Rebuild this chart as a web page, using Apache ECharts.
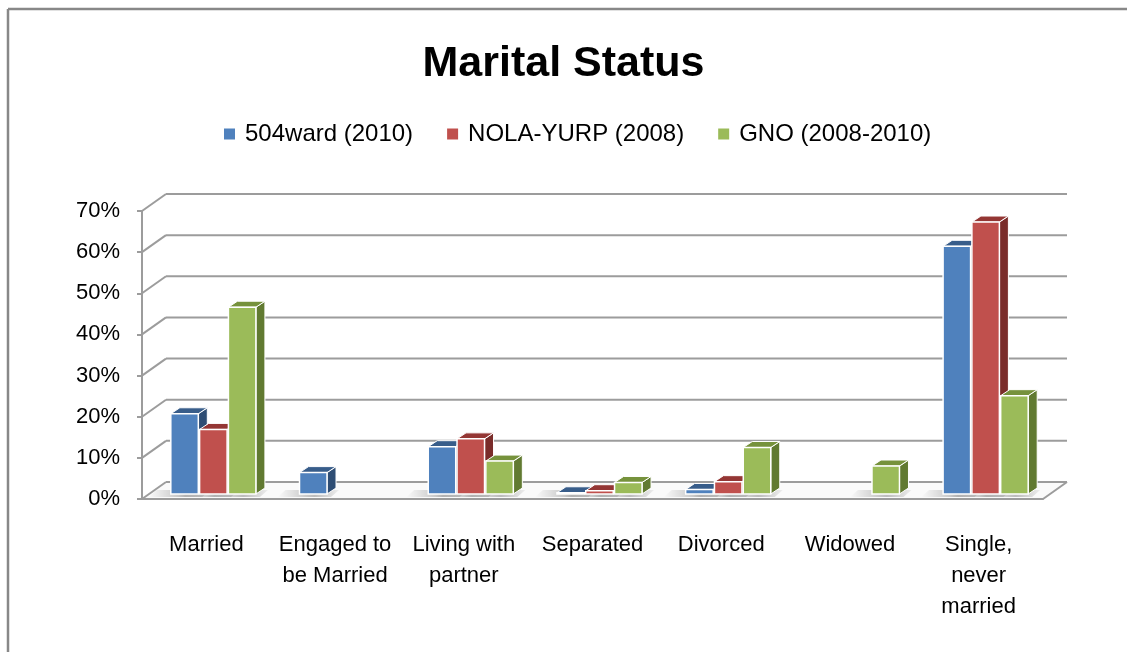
<!DOCTYPE html>
<html>
<head>
<meta charset="utf-8">
<script src="https://cdn.jsdelivr.net/npm/echarts@6/dist/echarts.min.js"></script>
<style>
  html, body { margin: 0; padding: 0; background: #fff; }
  #chart { width: 1127px; height: 652px; }
</style>
</head>
<body>
<div id="chart"></div>
<script>
const categories = ['Married', 'Engaged to\nbe Married', 'Living with\npartner', 'Separated', 'Divorced', 'Widowed', 'Single,\nnever\nmarried']
const seriesNames = ['504ward (2010)', 'NOLA-YURP (2008)', 'GNO (2008-2010)']
const ward504 = [19.5, 5.2, 11.5, 0.3, 1.1, null, 60.2]
const nolaYurp = [15.7, null, 13.4, 0.8, 3.0, null, 66.1]
const gno = [45.4, null, 8.0, 2.8, 11.3, 6.8, 23.9]
const yTicks = [0, 10, 20, 30, 40, 50, 60, 70]

const values = [ward504, nolaYurp, gno]
// front, top, side colours for each series
const faces = [
    ['#4F81BD', '#385D8A', '#2E4D74'],
    ['#C0504D', '#943634', '#7A2C2A'],
    ['#9BBB59', '#76923C', '#617A31']
]

// back wall offset, bar front offset, bar depth
const DX = 24, DY = -17
const FX = 7, FY = -5
const BX = 9, BY = -6
const BW = 27.5, STEP = 28.8
const gridColor = '#9c9c9c'

const font = '"Liberation Sans", Arial, sans-serif'

const chart = echarts.init(document.getElementById('chart'))

function barX(base, s) {
    return base[0] + FX + (s - 1) * STEP - BW / 2
}

const wallSeries = {
    type: 'custom',
    silent: true,
    z: 1,
    data: yTicks.map(v => [0, v]),
    renderItem: function (params, api) {
        const cs = params.coordSys
        const v = api.value(1)
        const y = api.coord([0, v])[1]
        const children = [
            { type: 'line', shape: { x1: cs.x, y1: y, x2: cs.x + DX, y2: y + DY }, style: { stroke: gridColor, lineWidth: 2 } },
            { type: 'line', shape: { x1: cs.x + DX, y1: y + DY, x2: cs.x + cs.width + DX, y2: y + DY }, style: { stroke: gridColor, lineWidth: 2 } }
        ]
        if (v === 0) {
            children.unshift({
                type: 'polygon',
                shape: { points: [[cs.x, y], [cs.x + cs.width, y], [cs.x + cs.width + DX, y + DY], [cs.x + DX, y + DY]] },
                style: { fill: '#fafafa' }
            })
            children.push({ type: 'line', shape: { x1: cs.x + cs.width, y1: y, x2: cs.x + cs.width + DX, y2: y + DY }, style: { stroke: gridColor, lineWidth: 2 } })
        }
        return { type: 'group', children: children }
    }
}

const shadowData = []
values.forEach((arr, s) => arr.forEach((v, i) => { if (v != null) shadowData.push([i, s]) }))

const shadowSeries = {
    type: 'custom',
    silent: true,
    z: 2,
    data: shadowData,
    renderItem: function (params, api) {
        const i = api.value(0), s = api.value(1)
        const base = api.coord([i, 0])
        const x0 = barX(base, s)
        const yb = base[1] + FY
        return {
            type: 'polygon',
            shape: { points: [[x0 - 22, yb + 3], [x0 + BW + 4, yb + 3], [x0 + BW + 12, yb - 4], [x0 - 14, yb - 4]] },
            style: {
                fill: new echarts.graphic.LinearGradient(0, 0, 1, 0, [
                    { offset: 0, color: 'rgba(0,0,0,0)' },
                    { offset: 0.6, color: 'rgba(0,0,0,0.25)' },
                    { offset: 1, color: 'rgba(0,0,0,0.05)' }
                ])
            }
        }
    }
}

const barSeries = values.map((arr, s) => ({
    type: 'custom',
    name: seriesNames[s],
    z: 3 + s,
    itemStyle: { color: faces[s][0] },
    data: arr.map((v, i) => [i, v == null ? '-' : v]),
    renderItem: function (params, api) {
        const i = api.value(0), v = api.value(1)
        if (isNaN(v)) return
        const top = api.coord([i, v])
        const base = api.coord([i, 0])
        const x0 = barX(base, s)
        const x1 = x0 + BW
        const yt = top[1] + FY
        const yb = base[1] + FY
        return {
            type: 'group',
            children: [
                { type: 'polygon', shape: { points: [[x1, yt], [x1 + BX, yt + BY], [x1 + BX, yb + BY], [x1, yb]] },
                  style: { fill: faces[s][2], stroke: '#fff', lineWidth: 1 } },
                { type: 'polygon', shape: { points: [[x0, yt], [x1, yt], [x1 + BX, yt + BY], [x0 + BX, yt + BY]] },
                  style: { fill: faces[s][1], stroke: '#fff', lineWidth: 1 } },
                { type: 'rect', shape: { x: x0, y: yt, width: BW, height: Math.max(yb - yt, 0.5) },
                  style: { fill: faces[s][0], stroke: '#fff', lineWidth: 1.5 } }
            ]
        }
    }
}))

chart.setOption({
    animation: false,
    backgroundColor: '#fff',
    title: {
        text: 'Marital Status',
        left: 'center',
        top: 38,
        textStyle: { fontFamily: font, fontSize: 43, fontWeight: 'bold', color: '#000' }
    },
    legend: {
        top: 117,
        left: 219,
        icon: 'rect',
        itemWidth: 11,
        itemHeight: 11,
        itemGap: 34,
        data: seriesNames,
        textStyle: { fontFamily: font, fontSize: 24, color: '#000', padding: [0, 0, 0, 5] }
    },
    graphic: [
        { type: 'line', shape: { x1: 8, y1: 9, x2: 1127, y2: 9 }, style: { stroke: '#888', lineWidth: 2.5 } },
        { type: 'line', shape: { x1: 8, y1: 9, x2: 8, y2: 652 }, style: { stroke: '#888', lineWidth: 2.5 } }
    ],
    grid: { left: 142, right: 84, top: 211, bottom: 153 },
    xAxis: {
        type: 'category',
        data: categories,
        axisLine: { lineStyle: { color: gridColor, width: 2 } },
        axisTick: { length: 8, lineStyle: { color: gridColor, width: 2 } },
        axisLabel: { fontFamily: font, fontSize: 22, color: '#000', lineHeight: 31, margin: 30, interval: 0 },
        z: 10
    },
    yAxis: {
        type: 'value',
        min: 0,
        max: 70,
        interval: 10,
        axisLine: { show: true, lineStyle: { color: gridColor, width: 2 } },
        axisTick: { show: true, length: 5, lineStyle: { color: gridColor, width: 2 } },
        axisLabel: { fontFamily: font, fontSize: 22, color: '#000', margin: 22, formatter: '{value}%' },
        splitLine: { show: false }
    },
    series: [wallSeries, shadowSeries].concat(barSeries)
})
</script>
</body>
</html>
